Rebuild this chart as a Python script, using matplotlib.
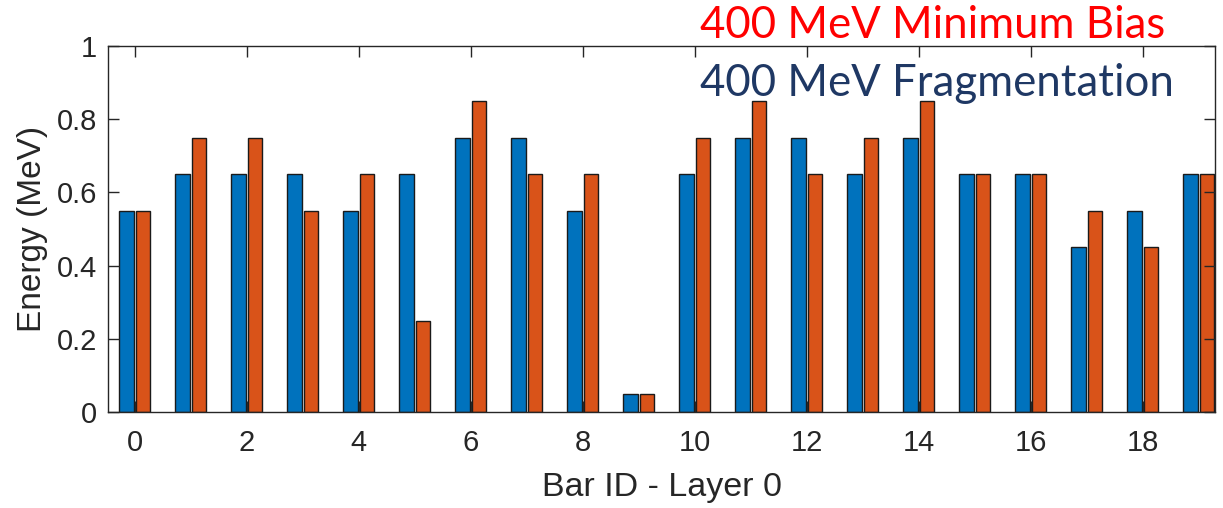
import numpy as np
import matplotlib
matplotlib.use("Agg")
import matplotlib.pyplot as plt

# energy per bar, two runs
bar_ids = list(range(20))
frag_vals = [0.55, 0.65, 0.65, 0.65, 0.55, 0.65, 0.75, 0.75, 0.55, 0.05,
             0.65, 0.75, 0.75, 0.65, 0.75, 0.65, 0.65, 0.45, 0.55, 0.65]
minbias_vals = [0.55, 0.75, 0.75, 0.55, 0.65, 0.25, 0.85, 0.65, 0.65, 0.05,
                0.75, 0.85, 0.65, 0.75, 0.85, 0.65, 0.65, 0.55, 0.45, 0.65]
x_ticks = [0, 2, 4, 6, 8, 10, 12, 14, 16, 18]
y_ticks = [0, 0.2, 0.4, 0.6, 0.8, 1]

plt.rcParams['font.family'] = ['Liberation Sans', 'DejaVu Sans']
dark = '#262626'

fig = plt.figure(figsize=(12.23, 5.08), dpi=100)
ax = fig.add_axes([108/1223, 1-412/508, (1215-108)/1223, (412-46)/508])

x = np.array(bar_ids)
w = 0.26
ax.bar(x - 0.145, frag_vals, width=w, color='#0072BD', edgecolor='#1a1a1a', linewidth=1.0)
ax.bar(x + 0.145, minbias_vals, width=w, color='#D95319', edgecolor='#1a1a1a', linewidth=1.0)

ax.set_xlim(-0.48, 19.29)
ax.set_ylim(0, 1)
ax.set_xticks(x_ticks)
ax.set_yticks(y_ticks)
ax.set_yticklabels(['0', '0.2', '0.4', '0.6', '0.8', '1'])
ax.tick_params(direction='in', length=8, width=1, colors=dark, labelsize=21,
               top=True, right=True, pad=8)
ax.tick_params(axis='x', pad=12)
for s in ax.spines.values():
    s.set_color(dark)
    s.set_linewidth(1)

ax.set_xlabel('Bar ID - Layer 0', fontsize=24.5, color=dark, labelpad=11)
ax.set_ylabel('Energy (MeV)', fontsize=24, color=dark, labelpad=6)

fig.text(700/1223, 1-26/508, '400 MeV Minimum Bias', color='#FF0000',
         fontsize=31.5, family=['Lato', 'DejaVu Sans'], va='center', ha='left')
fig.text(700/1223, 1-84/508, '400 MeV Fragmentation', color='#1F3864',
         fontsize=31.5, family=['Lato', 'DejaVu Sans'], va='center', ha='left')

fig.savefig('out.png', dpi=100)
